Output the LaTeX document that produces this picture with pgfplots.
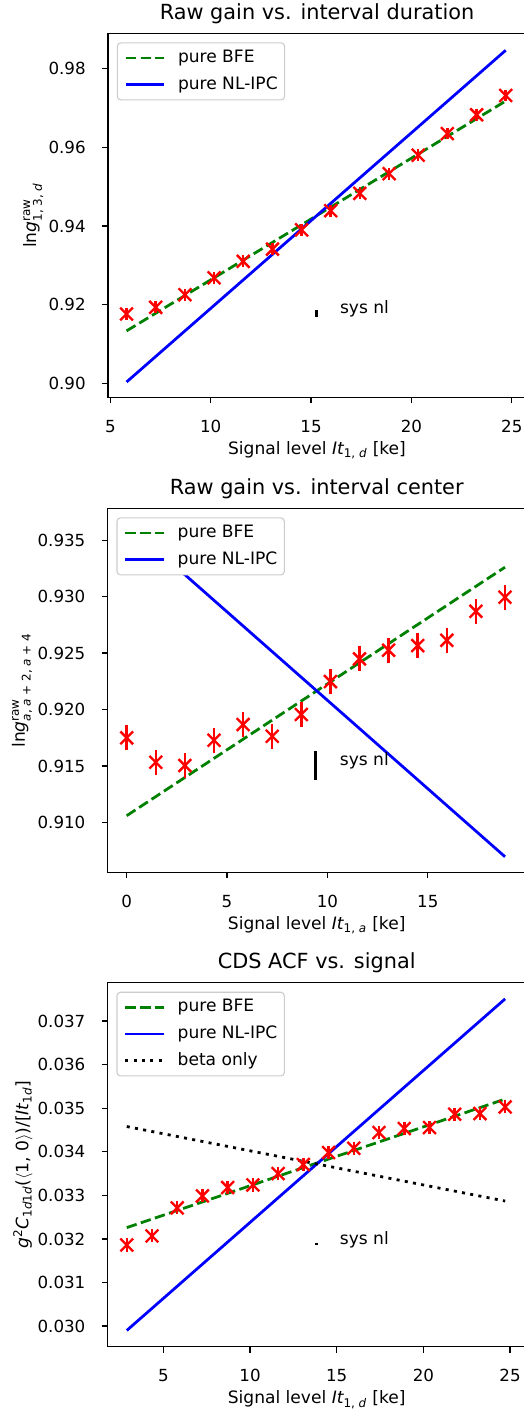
\documentclass[border=0pt]{standalone}
\usepackage{fontspec}
\setmainfont{DejaVu Sans}
\usepackage{amsmath}
\usepackage{pgfplots}
\pgfplotsset{compat=1.18}

\newcommand{\mi}[1]{\text{\itshape #1}}
\definecolor{mplgreen}{rgb}{0,0.5,0}
\definecolor{legedge}{gray}{0.8}

\pgfplotsset{
  mpl/.style={
    scale only axis, width=300.96bp, height=262.08bp,
    axis line style={line width=0.95bp},
    tick align=outside, tick pos=left,
    major tick length=4.2bp,
    every tick/.style={black, line width=0.95bp},
    scaled ticks=false,
    /pgf/number format/assume math mode=true,
    ticklabel style={font=\fontsize{12bp}{14bp}\selectfont},
    xticklabel style={anchor=base, inner sep=0pt, yshift=-21.2bp},
    yticklabel style={anchor=east, inner sep=0pt, xshift=-11.7bp},
    label style={font=\fontsize{12.3bp}{14bp}\selectfont},
    xlabel style={at={(axis description cs:0.5,0)}, anchor=base, yshift=-41bp},
    % pgfplots already lifts the title by 6pt
    title style={font=\fontsize{15bp}{18bp}\selectfont, at={(axis description cs:0.5,1)}, anchor=base, yshift=4bp},
    legend style={at={(axis description cs:0,1)}, anchor=north west, xshift=6.3bp, yshift=-6.5bp,
      draw=legedge, line width=0.8bp, rounded corners=2.5bp, fill=white,
      inner xsep=5bp, inner ysep=5.2bp, row sep=7.8bp, column sep=9.1bp,
      font=\fontsize{12.3bp}{14bp}\selectfont,
      nodes={inner sep=0pt, text height=8.8bp, text depth=2.6bp},
      cells={anchor=west}},
    legend image code/.code={\draw[#1] (0bp,0bp) -- (27.6bp,0bp);},
  },
  bfe/.style={mplgreen, line width=2bp, dash pattern=on 7.5bp off 3.2bp},
  ipc/.style={blue, line width=2bp},
  beta/.style={black, line width=2bp, dash pattern=on 2.2bp off 3.8bp},
  meas/.style={red, only marks, mark=x, mark size=6.5bp, mark options={line width=1.7bp},
    forget plot, error bars/.cd, y dir=both, y explicit, error mark=none,
    error bar style={line width=1.8bp, red}},
  sysnl/.style={black, line width=2.2bp, forget plot},
}

\begin{document}
\begin{tikzpicture}

% ---- top: raw gain vs. interval duration
\begin{axis}[mpl, at={(77.76bp,-23.98bp)}, anchor=north west,
  xmin=4.885, xmax=25.71, ymin=0.8964, ymax=0.98902,
  xtick={5,10,15,20,25},
  ytick={0.90,0.92,0.94,0.96,0.98},
  yticklabel style={/pgf/number format/.cd, fixed, fixed zerofill, precision=2},
  title={Raw gain vs. interval duration},
  xlabel={Signal level $\mi{It}_{\text{1, }\mi{d}}$ [ke]},
  ylabel={$\text{ln}\mi{g}^{\text{raw}}_{\text{1, 3, }\mi{d}}$},
  ylabel style={at={(axis description cs:-0.172,0.5)}, anchor=base},
]
\addplot[bfe] coordinates {(5.81,0.9133) (24.70,0.9718)};
\addlegendentry{pure BFE}
\addplot[ipc] coordinates {(5.81,0.9003) (24.70,0.9847)};
\addlegendentry{pure NL-IPC}
\addplot[meas] coordinates {
  (5.81,0.9176) +- (0,0.0015)
  (7.26,0.9193) +- (0,0.0015)
  (8.72,0.9225) +- (0,0.0015)
  (10.17,0.9268) +- (0,0.0015)
  (11.62,0.9310) +- (0,0.0015)
  (13.08,0.9341) +- (0,0.0015)
  (14.53,0.9390) +- (0,0.0015)
  (15.98,0.9439) +- (0,0.0015)
  (17.43,0.9483) +- (0,0.0015)
  (18.89,0.9533) +- (0,0.0015)
  (20.34,0.9580) +- (0,0.0015)
  (21.79,0.9635) +- (0,0.0015)
  (23.25,0.9683) +- (0,0.0015)
  (24.70,0.9732) +- (0,0.0015)
};
\addplot[sysnl] coordinates {(15.25,0.9168) (15.25,0.9186)};
\node[anchor=base west, font=\fontsize{12.3bp}{14bp}\selectfont] at (axis cs:16.2,0.9177) {sys nl};
\end{axis}

% ---- middle: raw gain vs. interval center
\begin{axis}[mpl, at={(77.54bp,-365.98bp)}, anchor=north west,
  xmin=-0.947, xmax=19.88, ymin=0.90557, ymax=0.93784,
  xtick={0,5,10,15},
  ytick={0.910,0.915,0.920,0.925,0.930,0.935},
  yticklabel style={/pgf/number format/.cd, fixed, fixed zerofill, precision=3},
  title={Raw gain vs. interval center},
  xlabel={Signal level $\mi{It}_{\text{1, }\mi{a}}$ [ke]},
  ylabel={$\text{ln}\mi{g}^{\text{raw}}_{\mi{a}\text{, }\mi{a}\text{ + 2, }\mi{a}\text{ + 4}}$},
  ylabel style={at={(axis description cs:-0.198,0.5)}, anchor=base},
]
\addplot[bfe] coordinates {(0,0.91059) (18.85,0.93262)};
\addlegendentry{pure BFE}
\addplot[ipc] coordinates {(0,0.9365) (18.85,0.90695)};
\addlegendentry{pure NL-IPC}
\addplot[meas] coordinates {
  (0.00,0.91749) +- (0,0.0011)
  (1.45,0.91533) +- (0,0.0011)
  (2.90,0.91504) +- (0,0.0011)
  (4.35,0.91728) +- (0,0.0011)
  (5.80,0.91867) +- (0,0.0011)
  (7.25,0.91763) +- (0,0.0011)
  (8.70,0.91956) +- (0,0.0011)
  (10.15,0.92248) +- (0,0.0011)
  (11.60,0.92449) +- (0,0.0011)
  (13.05,0.92526) +- (0,0.0011)
  (14.50,0.92567) +- (0,0.0011)
  (15.95,0.92614) +- (0,0.0011)
  (17.40,0.92871) +- (0,0.0011)
  (18.85,0.92996) +- (0,0.0011)
};
\addplot[sysnl] coordinates {(9.43,0.91379) (9.43,0.91631)};
\node[anchor=base west, font=\fontsize{12.3bp}{14bp}\selectfont] at (axis cs:10.38,0.91505) {sys nl};
\end{axis}

% ---- bottom: CDS ACF vs. signal
\begin{axis}[mpl, at={(77.54bp,-707.54bp)}, anchor=north west,
  xmin=1.79, xmax=25.9, ymin=0.029527, ymax=0.037881,
  xtick={5,10,15,20,25},
  ytick={0.030,0.031,0.032,0.033,0.034,0.035,0.036,0.037},
  yticklabel style={/pgf/number format/.cd, fixed, fixed zerofill, precision=3},
  title={CDS ACF vs. signal},
  xlabel={Signal level $\mi{It}_{\text{1, }\mi{d}}$ [ke]},
  ylabel={$\mi{g}^{\text{2}}\mi{C}_{\text{1}\mi{d}\text{1}\mi{d}}\text{(}\langle\text{1, 0}\rangle\text{)/[}\mi{It}_{\text{1}\mi{d}}\text{]}$},
  ylabel style={at={(axis description cs:-0.190,0.5)}, anchor=base},
]
\addplot[bfe] coordinates {(2.89,0.03226) (24.715,0.03521)};
\addlegendentry{pure BFE}
\addplot[ipc] coordinates {(2.89,0.02990) (24.715,0.03751)};
\addlegendentry{pure NL-IPC}
\addplot[beta] coordinates {(2.89,0.03458) (24.715,0.03287)};
\addlegendentry{beta only}
\addplot[meas] coordinates {
  (2.890,0.031862) +- (0,0.00015)
  (4.345,0.032069) +- (0,0.00015)
  (5.800,0.032712) +- (0,0.00015)
  (7.255,0.032987) +- (0,0.00015)
  (8.710,0.033180) +- (0,0.00015)
  (10.165,0.033239) +- (0,0.00015)
  (11.620,0.033501) +- (0,0.00015)
  (13.075,0.033708) +- (0,0.00015)
  (14.530,0.033983) +- (0,0.00015)
  (15.985,0.034082) +- (0,0.00015)
  (17.440,0.034442) +- (0,0.00015)
  (18.895,0.034534) +- (0,0.00015)
  (20.350,0.034557) +- (0,0.00015)
  (21.805,0.034862) +- (0,0.00015)
  (23.260,0.034878) +- (0,0.00015)
  (24.715,0.035030) +- (0,0.00015)
};
\addplot[sysnl] coordinates {(13.81,0.03185) (13.81,0.03191)};
\node[anchor=base west, font=\fontsize{12.3bp}{14bp}\selectfont] at (axis cs:14.9,0.03188) {sys nl};
\end{axis}

\pgfresetboundingbox
\path[use as bounding box] (0bp,0bp) rectangle (377.28bp,-1016.64bp);
\end{tikzpicture}
\end{document}
